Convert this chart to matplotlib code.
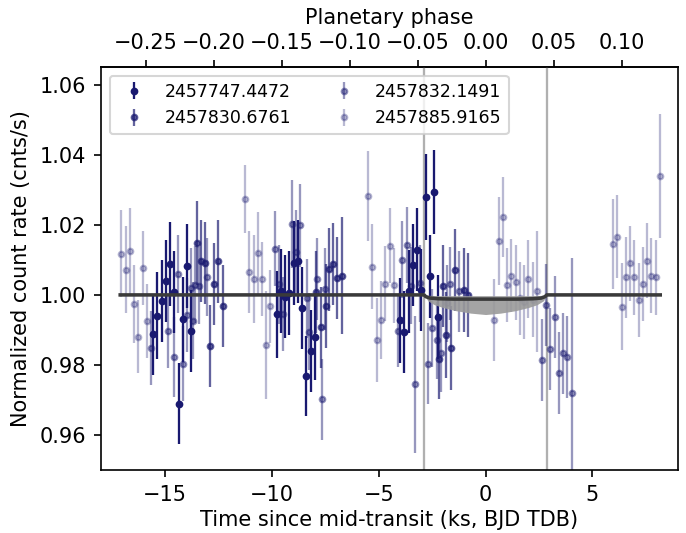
import numpy as np
import matplotlib
matplotlib.use("Agg")
import matplotlib.pyplot as plt

# ---------------- data ----------------
labels = ["2457747.4472", "2457830.6761", "2457832.1491", "2457885.9165"]

t1 = [-15.56, -15.36, -15.16, -14.96, -14.77, -14.57, -14.37, -14.17, -13.98, -13.78,
      -9.78, -9.58, -9.40, -9.18, -8.97, -8.77, -8.58, -8.40, -8.19, -7.99,
      -4.03, -3.81, -3.60, -3.40, -3.22, -3.01, -2.81, -2.61, -2.40, -2.22]
f1 = [0.9888, 0.9941, 0.9983, 1.0040, 1.0088, 1.0009, 0.9690, 0.9930, 1.0083, 0.9898,
      0.9945, 1.0011, 0.9995, 1.0005, 1.0091, 1.0096, 0.9963, 0.9768, 0.9840, 0.9881,
      0.9927, 0.9893, 1.0010, 1.0085, 1.0129, 1.0015, 1.0279, 1.0053, 1.0293, 0.9936]
e1 = [0.0116, 0.0124, 0.0118, 0.0117, 0.0119, 0.0117, 0.0115, 0.0122, 0.0119, 0.0117,
      0.0124, 0.0119, 0.0119, 0.0119, 0.0119, 0.0119, 0.0118, 0.0115, 0.0116, 0.0125,
      0.0122, 0.0117, 0.0119, 0.0118, 0.0119, 0.0117, 0.0122, 0.0119, 0.0120, 0.0120]

t2 = [-13.52, -13.31, -13.12, -12.91, -12.72, -12.51, -12.31,
      -7.95, -7.72, -7.46, -7.34, -7.15, -6.94, -6.74,
      -2.16, -2.01, -1.85, -1.62, -1.44, -1.03, -0.83]
f2 = [1.0148, 1.0098, 1.0090, 0.9854, 1.0031, 1.0096, 0.9967,
      1.0008, 0.9907, 0.9968, 1.0073, 1.0089, 1.0048, 1.0055,
      0.9818, 1.0026, 0.9885, 0.9849, 1.0071, 1.0014, 1.0000]
e2 = [0.0119, 0.0117, 0.0117, 0.0117, 0.0117, 0.0119, 0.0117,
      0.0117, 0.0117, 0.0119, 0.0119, 0.0117, 0.0117, 0.0167,
      0.0115, 0.0117, 0.0122, 0.0119, 0.0117, 0.0119, 0.0119]

t3 = [-15.65, -14.87, -14.57, -14.38, -14.18, -13.98, -13.78, -13.70, -13.58, -13.42, -13.05,
      -9.88, -9.67, -9.48, -9.07, -8.86, -8.71, -8.36, -8.25, -7.88, -7.66, -7.54,
      -4.11, -3.90, -3.68, -3.50, -3.29, -3.07, -2.70, -2.50, -2.29, -2.08, -1.82, -1.69, -1.25,
      2.62, 2.82, 3.03, 3.23, 3.43, 3.62, 3.82, 4.03]
f3 = [0.9849, 0.9897, 0.9823, 1.0059, 0.9804, 0.9943, 1.0019, 0.9926, 1.0029, 1.0026, 1.0051,
      1.0132, 1.0030, 0.9945, 1.0202, 1.0122, 1.0199, 0.9990, 0.9895, 1.0045, 0.9702, 1.0016,
      0.9898, 1.0100, 1.0143, 1.0026, 0.9745, 1.0033, 0.9804, 0.9906, 0.9871, 0.9833, 0.9976, 1.0032, 1.0010,
      0.9814, 0.9971, 0.9845, 0.9937, 0.9777, 0.9833, 0.9823, 0.9721]
e3 = [0.0105, 0.0107, 0.0115, 0.0112, 0.0107, 0.0105, 0.0115, 0.0110, 0.0110, 0.0110, 0.0110,
      0.0107, 0.0112, 0.0105, 0.0125, 0.0119, 0.0118, 0.0112, 0.0110, 0.0117, 0.0115, 0.0117,
      0.0105, 0.0110, 0.0108, 0.0110, 0.0196, 0.0110, 0.0115, 0.0112, 0.0110, 0.0110, 0.0110, 0.0105, 0.0115,
      0.0116, 0.0117, 0.0117, 0.0117, 0.0116, 0.0115, 0.0116, 0.0385]

t4 = [-17.06, -16.85, -16.64, -16.45, -16.25, -16.04, -15.86,
      -11.27, -11.06, -10.86, -10.67, -10.47, -10.27, -10.07,
      -5.51, -5.31, -5.10, -4.90, -4.70, -4.49, -4.29,
      0.41, 0.61, 0.81, 1.00, 1.20, 1.40, 1.61, 1.81, 2.00, 2.20, 2.40,
      5.96, 6.16, 6.37, 6.57, 6.76, 6.96, 7.16, 7.36, 7.57, 7.76, 7.96, 8.16]
f4 = [1.0118, 1.0072, 1.0124, 0.9974, 0.9881, 1.0076, 0.9926,
      1.0274, 1.0064, 1.0046, 1.0121, 1.0046, 0.9857, 0.9967,
      1.0282, 1.0081, 0.9871, 0.9928, 1.0032, 1.0141, 1.0027,
      0.9927, 1.0153, 1.0222, 1.0029, 1.0055, 1.0036, 0.9990, 0.9980, 1.0046, 0.9986, 1.0010,
      1.0145, 1.0166, 0.9966, 1.0050, 1.0091, 1.0050, 0.9986, 1.0032, 1.0098, 1.0055, 1.0050, 1.0339]
e4 = [0.0124, 0.0124, 0.0125, 0.0112, 0.0105, 0.0106, 0.0105,
      0.0098, 0.0117, 0.0126, 0.0117, 0.0105, 0.0153, 0.0105,
      0.0128, 0.0120, 0.0120, 0.0112, 0.0107, 0.0106, 0.0107,
      0.0117, 0.0126, 0.0115, 0.0105, 0.0105, 0.0107, 0.0105, 0.0105, 0.0112, 0.0107, 0.0172,
      0.0128, 0.0118, 0.0124, 0.0115, 0.0107, 0.0107, 0.0106, 0.0106, 0.0106, 0.0106, 0.0107, 0.0178]

# transit model
model_t = [-17.1, -2.88, -2.80, -2.60, -2.20, -1.50, 0.0, 1.50, 2.20, 2.60, 2.78, 2.86, 8.17]
model_f = [1.0, 1.0, 0.9995, 0.9991, 0.9989, 0.9988, 0.9988, 0.9988, 0.9989, 0.9991, 0.9995, 1.0, 1.0]
band_t = [-2.88, -2.70, -2.40, -2.00, -1.40, -0.70, 0.0, 0.70, 1.40, 2.00, 2.40, 2.70, 2.86]
band_lo = [1.0, 0.9983, 0.9972, 0.9964, 0.9955, 0.9948, 0.9944, 0.9948, 0.9955, 0.9964, 0.9972, 0.9983, 1.0]
band_hi = [1.0, 0.9999, 0.9998, 0.9998, 0.9998, 0.9998, 0.9998, 0.9998, 0.9998, 0.9998, 0.9998, 0.9999, 1.0]

t_ingress, t_egress = -2.88, 2.86
period_ks = 0.73655 * 86.4
phase_ticks = [-0.25, -0.20, -0.15, -0.10, -0.05, 0.00, 0.05, 0.10]

# ---------------- plot ----------------
dpi = 150
fig = plt.figure(figsize=(686 / dpi, 533 / dpi), dpi=dpi)
ax = fig.add_axes([0.1472, 0.1180, 0.8411, 0.7560])

base = "midnightblue"
alphas = [1.0, 0.68, 0.45, 0.3]
series = [(t1, f1, e1), (t2, f2, e2), (t3, f3, e3), (t4, f4, e4)]
for (t, f, e), a, lab in zip(series, alphas, labels):
    ax.errorbar(t, f, yerr=e, fmt="o", ms=2.7, color=base, alpha=a,
                elinewidth=1.1, capsize=0, label=lab, zorder=2)

ax.axvline(t_ingress, color="#b0b0b0", lw=1.1, zorder=1)
ax.axvline(t_egress, color="#b0b0b0", lw=1.1, zorder=1)

ax.fill_between(band_t, band_lo, band_hi, color="#9a9a9a", alpha=0.9, lw=0, zorder=3)
ax.plot(model_t, model_f, color="#3a3a3a", lw=1.7, zorder=4)

ax.set_xlim(-18, 9)
ax.set_ylim(0.95, 1.065)
ax.set_xlabel("Time since mid-transit (ks, BJD TDB)", labelpad=2.5)
ax.set_ylabel("Normalized count rate (cnts/s)")

ax.legend(loc="upper left", ncol=2, fontsize="small")

sec = ax.secondary_xaxis("top", functions=(lambda x: x / period_ks, lambda p: p * period_ks))
sec.set_xticks(phase_ticks)
sec.set_xlabel("Planetary phase")

fig.savefig("out.png", dpi=dpi)
